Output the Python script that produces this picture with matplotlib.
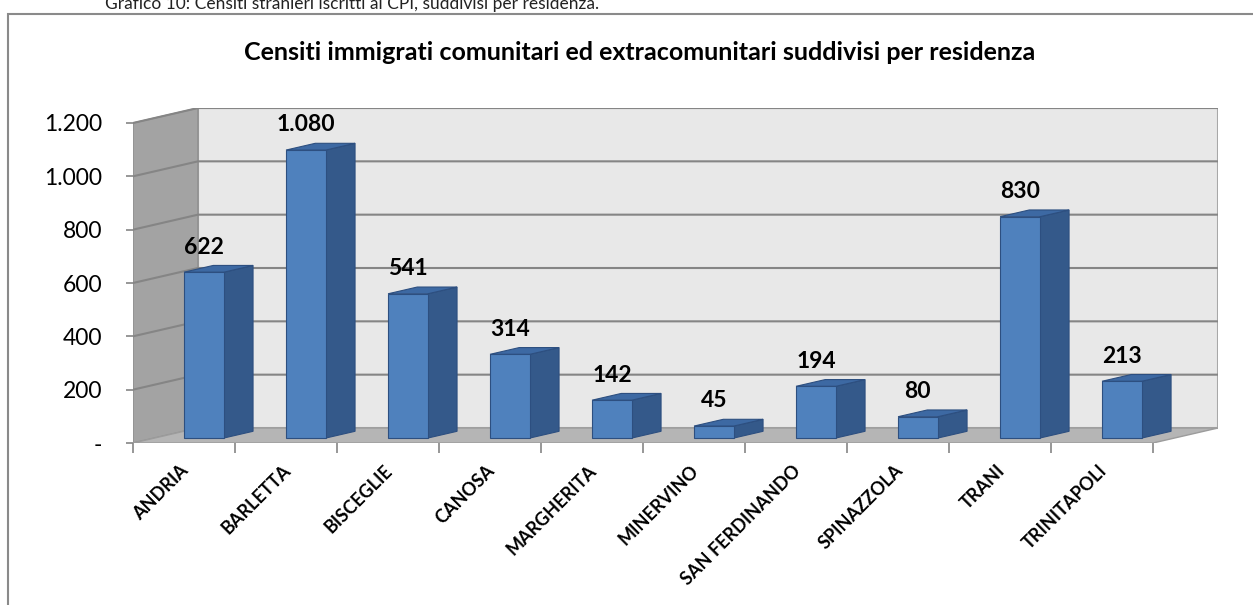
import numpy as np
import matplotlib.pyplot as plt
from matplotlib.patches import Polygon, Rectangle
from matplotlib.transforms import ScaledTranslation

plt.rcParams['font.family'] = ['Lato', 'DejaVu Sans']

# Dati: censiti per comune di residenza
CATEGORIE = ["ANDRIA", "BARLETTA", "BISCEGLIE", "CANOSA", "MARGHERITA",
             "MINERVINO", "SAN FERDINANDO", "SPINAZZOLA", "TRANI", "TRINITAPOLI"]
CENSITI = [622, 1080, 541, 314, 142, 45, 194, 80, 830, 213]
Y_TICKS = [0, 200, 400, 600, 800, 1000, 1200]
Y_LABELS = ["-", "200", "400", "600", "800", "1.000", "1.200"]

TITOLO = "Censiti immigrati comunitari ed extracomunitari suddivisi per residenza"
DIDASCALIA = "Grafico 10: Censiti stranieri iscritti ai CPI, suddivisi per residenza."

# Prospettiva finta 3D: spostamento della profondità in unità dati
N = len(CATEGORIE)
YMAX = 1200
DX = 0.637
DY = 56.25
Z_FRONT, Z_BACK = 0.33, 0.78
BAR_LEFT, BAR_W = 0.29, 0.39

C_FRONT = '#4f81bd'
C_SIDE = '#34598a'
C_TOP = '#3d69a3'
C_EDGE = '#2d4f80'
C_GRID = '#858585'

fig = plt.figure(figsize=(12.53, 6.05), dpi=100)
ax = fig.add_axes([133 / 1253, 1 - 443 / 605, (1218 - 133) / 1253, (443 - 108) / 605])
ax.set_xlim(0, N + DX)
ax.set_ylim(0, YMAX + DY)
ax.set_facecolor('none')
for s in ax.spines.values():
    s.set_visible(False)

# Pareti e pavimento
ax.add_patch(Rectangle((DX, DY), N, YMAX, fc='#e8e8e8', ec='#a8a8a8', lw=1.5, zorder=0))
ax.add_patch(Polygon([(0, 0), (DX, DY), (DX, YMAX + DY), (0, YMAX)],
                     fc='#a3a3a3', ec='#8e8e8e', lw=1, zorder=0))
ax.add_patch(Polygon([(0, 0), (N, 0), (N + DX, DY), (DX, DY)],
                     fc='#b5b5b5', ec='#9c9c9c', lw=1, zorder=0.5))

# Griglia su parete sinistra e parete di fondo
for v in Y_TICKS[1:]:
    ax.plot([0, DX, N + DX], [v, v + DY, v + DY], color=C_GRID, lw=1.5, zorder=1)

# Colonne: faccia frontale, lato e sommità
xs = np.arange(N) + BAR_LEFT + Z_FRONT * DX
bf = Z_FRONT * DY
bb = Z_BACK * DY
ax.bar(xs, CENSITI, width=BAR_W, bottom=bf, align='edge',
       color=C_FRONT, edgecolor=C_EDGE, linewidth=0.8, zorder=3)
for i, v in enumerate(CENSITI):
    x0f = xs[i]
    x1f = x0f + BAR_W
    x0b = x0f + (Z_BACK - Z_FRONT) * DX
    x1b = x1f + (Z_BACK - Z_FRONT) * DX
    ax.add_patch(Polygon([(x1f, bf), (x1b, bb), (x1b, bb + v), (x1f, bf + v)],
                         fc=C_SIDE, ec=C_EDGE, lw=0.8, zorder=2))
    ax.add_patch(Polygon([(x0f, bf + v), (x1f, bf + v), (x1b, bb + v), (x0b, bb + v)],
                         fc=C_TOP, ec=C_EDGE, lw=0.8, zorder=2))
    ax.annotate(f"{v:,}".replace(",", "."), xy=(x0f + BAR_W / 2, bb + v),
                xytext=(0, 8.5), textcoords='offset points', ha='center', va='baseline',
                fontsize=16.5, fontweight='bold', zorder=5)

# Assi
ax.set_yticks(Y_TICKS, Y_LABELS)
ax.tick_params(axis='y', length=5, width=1.2, color=C_GRID, labelsize=16.5, pad=17)
ax.set_xticks(range(N + 1), [])
ax.tick_params(axis='x', which='major', length=7, width=1.2, color=C_GRID)
ax.set_xticks(np.arange(N) + 0.5, CATEGORIE, minor=True)
ax.tick_params(axis='x', which='minor', length=0, pad=18)
off = ScaledTranslation(2 / 100, 0, fig.dpi_scale_trans)
for lab in ax.get_xticklabels(minor=True):
    lab.set_rotation(45)
    lab.set_ha('right')
    lab.set_va('center')
    lab.set_rotation_mode('anchor')
    lab.set_fontweight('bold')
    lab.set_fontsize(13)
    lab.set_transform(lab.get_transform() + off)

fig.text(640 / 1253, 1 - 52 / 605, TITOLO, ha='center', va='center',
         fontsize=18, fontweight='bold')
fig.text(105 / 1253, 1 - 9.5 / 605, DIDASCALIA, ha='left', va='baseline',
         fontsize=12.5, color='#222222')

# Cornice del grafico
fig.add_artist(Rectangle((8 / 1253, -0.1), 1.1, 1.1 - 14 / 605, transform=fig.transFigure,
                         fill=False, ec='#8a8a8a', lw=1.5))

fig.savefig('out.png', dpi=100)
